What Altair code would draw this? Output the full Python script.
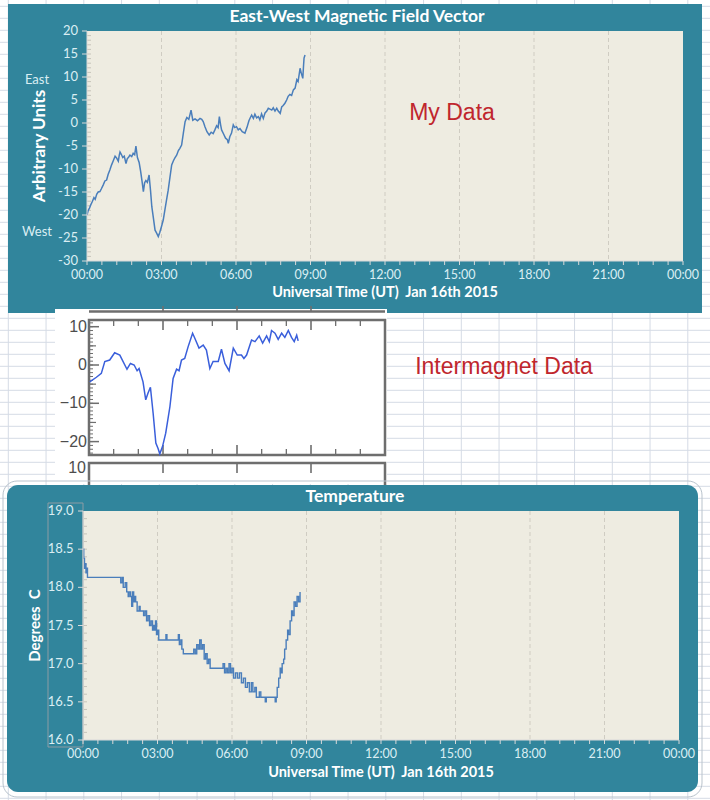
import altair as alt
import pandas as pd

# ------------------------------------------------------------------ data
# East-West magnetic field (my data): hours UT, arbitrary units
mag_hours = [0.00, 0.05, 0.10, 0.15, 0.22, 0.28, 0.33, 0.39, 0.45, 0.52, 0.58, 0.65, 0.72, 0.79,
             0.85, 0.92, 0.99, 1.05, 1.13, 1.19, 1.26, 1.30, 1.33, 1.38, 1.44, 1.50, 1.57, 1.62,
             1.68, 1.73, 1.80, 1.86, 1.92, 1.97, 2.03, 2.10, 2.16, 2.22, 2.27, 2.32, 2.37, 2.43,
             2.50, 2.56, 2.61, 2.67, 2.74, 2.80, 2.87, 2.93, 3.00, 3.07, 3.14, 3.20, 3.27, 3.34,
             3.41, 3.48, 3.54, 3.61, 3.68, 3.74, 3.81, 3.88, 3.95, 4.02, 4.10, 4.19, 4.26, 4.35,
             4.45, 4.55, 4.62, 4.68, 4.75, 4.83, 4.92, 5.00, 5.08, 5.15, 5.22, 5.28, 5.33, 5.38,
             5.42, 5.50, 5.58, 5.65, 5.69, 5.75, 5.82, 5.89, 5.95, 6.02, 6.09, 6.16, 6.25, 6.36,
             6.44, 6.52, 6.58, 6.63, 6.70, 6.76, 6.83, 6.90, 6.96, 7.03, 7.10, 7.17, 7.24, 7.30,
             7.37, 7.44, 7.50, 7.57, 7.64, 7.70, 7.78, 7.84, 7.90, 7.97, 8.04, 8.10, 8.17, 8.24,
             8.31, 8.38, 8.45, 8.50, 8.55, 8.58, 8.63, 8.69, 8.72, 8.74, 8.78]
mag_values = [-20.0, -19.0, -18.5, -17.8, -17.0, -16.2, -16.6, -15.5, -15.0, -14.9, -14.3, -13.5, -12.6, -12.4,
              -11.2, -10.2, -9.1, -8.3, -7.2, -7.6, -8.3, -7.0, -6.3, -6.8, -7.5, -7.2, -8.8, -7.8,
              -7.4, -7.0, -7.3, -6.6, -6.9, -5.0, -7.5, -8.6, -10.5, -12.8, -14.9, -13.0, -12.5, -12.9,
              -11.3, -14.8, -18.2, -20.5, -23.3, -23.9, -24.7, -23.8, -22.5, -21.1, -18.8, -16.8, -14.6, -11.8,
              -9.1, -8.2, -7.6, -7.0, -6.0, -5.5, -4.8, -2.2, 0.3, 1.2, 0.8, 2.8, 0.6, 0.9,
              0.5, 1.0, 0.8, 0.3, -0.8, -1.9, -2.6, -2.0, -2.3, -1.5, -0.6, -1.0, 1.4, -0.4,
              -1.5, -2.4, -3.3, -3.6, -4.4, -3.0, -2.2, -0.4, -1.0, -0.8, -1.5, -1.2, -1.9, -2.2,
              -1.0, 0.5, 1.2, 1.7, 1.0, 1.9, 1.1, 1.4, 0.7, 2.0, 1.0, 2.2, 2.6, 3.2,
              3.0, 2.8, 3.3, 2.6, 3.2, 2.6, 2.1, 3.5, 3.8, 4.3, 5.0, 5.8, 6.2, 6.0,
              7.2, 7.6, 9.4, 9.0, 10.8, 11.9, 10.8, 9.7, 12.5, 14.1, 14.8]

# Intermagnet data (inset)
im_hours = [0.03, 0.30, 0.50, 0.64, 0.84, 1.04, 1.25, 1.54, 1.68, 1.83, 1.95, 2.03, 2.19, 2.30,
            2.39, 2.49, 2.60, 2.71, 2.80, 2.87, 2.98, 3.11, 3.28, 3.41, 3.55, 3.65, 3.75, 3.88,
            4.02, 4.20, 4.29, 4.46, 4.63, 4.76, 4.90, 5.03, 5.24, 5.37, 5.51, 5.68, 5.85, 6.01,
            6.18, 6.28, 6.39, 6.59, 6.73, 6.90, 7.04, 7.20, 7.31, 7.40, 7.54, 7.67, 7.81, 7.94,
            8.08, 8.21, 8.32, 8.42, 8.48]
im_values = [-4.4, -3.2, -2.2, 0.9, 1.3, 3.2, 2.6, -1.1, 0.4, 0.0, -1.5, -0.9, -4.4, -9.1,
             -7.4, -5.8, -12.6, -20.4, -21.8, -23.2, -21.3, -17.8, -10.9, -3.5, -1.1, -1.5, 1.3, 1.7,
             4.8, 8.3, 7.0, 4.4, 5.2, 3.9, -0.9, 0.9, 0.9, 4.1, 0.4, -1.5, 4.4, 2.6,
             2.6, 1.7, 2.6, 6.5, 6.1, 7.6, 5.7, 7.6, 6.1, 9.0, 8.3, 6.7, 8.3, 7.2,
             9.0, 7.2, 6.1, 7.8, 6.3]

# Temperature (degrees C)
temp_hours = [0.00, 0.03, 0.06, 0.09, 0.12, 0.15, 0.18, 1.50, 1.52, 1.58, 1.62, 1.70, 1.76, 1.82,
              1.86, 1.92, 1.96, 2.00, 2.04, 2.08, 2.12, 2.18, 2.26, 2.30, 2.40, 2.44, 2.50, 2.56,
              2.62, 2.68, 2.74, 2.80, 2.84, 2.88, 2.92, 2.96, 3.00, 3.05, 3.30, 3.34, 3.38, 3.80,
              3.84, 3.88, 3.94, 3.98, 4.04, 4.40, 4.46, 4.52, 4.58, 4.64, 4.70, 4.76, 4.82, 4.88,
              4.94, 5.00, 5.06, 5.12, 5.60, 5.64, 5.70, 5.76, 5.82, 5.88, 5.94, 6.00, 6.06, 6.14,
              6.22, 6.30, 6.38, 6.46, 6.54, 6.62, 6.70, 6.78, 6.84, 6.92, 6.98, 7.10, 7.16, 7.30,
              7.34, 7.38, 7.70, 7.74, 7.78, 7.82, 7.88, 7.94, 7.98, 8.02, 8.08, 8.12, 8.18, 8.24,
              8.28, 8.34, 8.40, 8.44, 8.50, 8.56, 8.62, 8.68, 8.74]
temp_values = [18.50, 18.38, 18.25, 18.31, 18.19, 18.25, 18.13, 18.13, 18.06, 18.13, 18.00, 18.06, 17.94, 17.88,
               17.94, 17.88, 17.75, 17.94, 17.81, 17.88, 17.81, 17.69, 17.75, 17.69, 17.69, 17.63, 17.69, 17.56,
               17.63, 17.50, 17.56, 17.44, 17.50, 17.44, 17.56, 17.38, 17.44, 17.31, 17.31, 17.38, 17.31, 17.31,
               17.38, 17.25, 17.31, 17.19, 17.13, 17.13, 17.19, 17.13, 17.25, 17.19, 17.31, 17.19, 17.25, 17.06,
               17.13, 17.00, 17.06, 16.94, 16.94, 17.00, 16.88, 16.94, 16.88, 17.00, 16.88, 16.94, 16.81, 16.88,
               16.81, 16.88, 16.75, 16.81, 16.69, 16.75, 16.63, 16.75, 16.63, 16.69, 16.56, 16.63, 16.56, 16.56,
               16.50, 16.56, 16.56, 16.50, 16.56, 16.69, 16.81, 16.94, 16.88, 17.00, 17.06, 17.19, 17.31, 17.44,
               17.38, 17.56, 17.69, 17.63, 17.81, 17.75, 17.88, 17.81, 17.94]

# axis ticks / labels
hour_grid = [3, 6, 9, 12, 15, 18, 21]
hour_label_pos = [0, 3, 6, 9, 12, 15, 18, 21, 24]
hour_label_text = ["00:00", "03:00", "06:00", "09:00", "12:00", "15:00", "18:00", "21:00", "00:00"]
time_ticks = [round(k * 0.6, 1) for k in range(41)]
mag_labels = [-30, -25, -20, -15, -10, -5, 0, 5, 10, 15, 20]
mag_label_text = ["-30", "-25", "-20", "-15", "-10", "-5", "0", "5", "10", "15", "20"]
mag_minor = list(range(-29, 20))
temp_labels = [16.0, 16.5, 17.0, 17.5, 18.0, 18.5, 19.0]
temp_label_text = ["16.0", "16.5", "17.0", "17.5", "18.0", "18.5", "19.0"]
temp_minor = [round(16 + 0.1 * k, 1) for k in range(1, 30)]
im_labels = [-20, -10, 0, 10]
im_label_text = ["\u221220", "\u221210", "0", "10"]
im_minor = list(range(-23, 12))
im_mid = [-15, -5, 5]
im_hour_minor = [1, 2, 4, 5, 7, 8, 10, 11]
im_hour_major = [3, 6, 9]
sheet_cols = list(range(19))
sheet_rows = list(range(67))

# ------------------------------------------------------------------ style
W, H = 710, 800
TEAL = "#31859C"
PLOT_BG = "#EEECE1"
LABEL = "#DAEEF3"
AXIS_LINE = "#D9D9D9"
GRID = "#CFCCC2"
LINE = "#4A7EBB"
RED = "#C0262D"
FONT = "Lato"
SHEET = "#D5DBE5"
FRAME = "#6E6E6E"

one = pd.DataFrame({"k": [0]})


def box(x, x2, y, y2, **kw):
    return alt.Chart(one).mark_rect(**kw).encode(
        x=alt.value(x), x2=alt.value(x2), y=alt.value(y), y2=alt.value(y2))


def text(t, x, y, **kw):
    return alt.Chart(one).mark_text(text=t, **kw).encode(x=alt.value(x), y=alt.value(y))


def hrule(x, x2, y, **kw):
    return alt.Chart(one).mark_rule(**kw).encode(x=alt.value(x), x2=alt.value(x2), y=alt.value(y))


def vrule(x, y, y2, **kw):
    return alt.Chart(one).mark_rule(**kw).encode(x=alt.value(x), y=alt.value(y), y2=alt.value(y2))


def panel(xs, ys, x0, x1, y0, y1, series, ylab_vals, ylab_text, yminor, line_kw, xtitle_y, ytitle,
          ytitle_x, ytitle_size, label_right, tick_len=5):
    """Excel-style panel: grid, minor ticks, axes built from marks, the data line."""
    grid = alt.Chart(pd.DataFrame({"g": hour_grid})).mark_rule(
        color=GRID, strokeDash=[4, 3], strokeWidth=1).encode(
        x=alt.X("g:Q", scale=xs, axis=None), y=alt.value(y0), y2=alt.value(y1))
    minor = alt.Chart(pd.DataFrame({"t": yminor})).mark_rule(color="#C6C4BA", strokeWidth=1).encode(
        y=alt.Y("t:Q", scale=ys, axis=None), x=alt.value(x0), x2=alt.value(x0 + 4))
    yticks = alt.Chart(pd.DataFrame({"t": ylab_vals})).mark_rule(color=AXIS_LINE, strokeWidth=1).encode(
        y=alt.Y("t:Q", scale=ys, axis=None), x=alt.value(x0 - tick_len), x2=alt.value(x0))
    ylabels = alt.Chart(pd.DataFrame({"t": ylab_vals, "s": ylab_text})).mark_text(
        font=FONT, fontSize=13, color=LABEL, align="right", baseline="middle").encode(
        y=alt.Y("t:Q", scale=ys, axis=None), x=alt.value(label_right), text="s:N")
    xticks = alt.Chart(pd.DataFrame({"t": time_ticks})).mark_rule(color=AXIS_LINE, strokeWidth=1).encode(
        x=alt.X("t:Q", scale=xs, axis=None), y=alt.value(y1), y2=alt.value(y1 + 4))
    xlabels = alt.Chart(pd.DataFrame({"t": hour_label_pos, "s": hour_label_text})).mark_text(
        font=FONT, fontSize=12.5, color=LABEL, align="center", baseline="middle").encode(
        x=alt.X("t:Q", scale=xs, axis=None), y=alt.value(y1 + 14), text="s:N")
    line = alt.Chart(pd.DataFrame({"h": series[0], "v": series[1]})).mark_line(**line_kw).encode(
        x=alt.X("h:Q", scale=xs, axis=None), y=alt.Y("v:Q", scale=ys, axis=None))
    x_axis_line = hrule(x0, x1, y1, color=AXIS_LINE, strokeWidth=1)
    y_axis_line = vrule(x0, y0, y1, color=AXIS_LINE, strokeWidth=1)
    xtitle = text("Universal Time (UT)\u00a0 Jan 16th 2015", (x0 + x1) / 2, xtitle_y, font=FONT,
                  fontSize=14.5, fontWeight="bold", color="white", align="center", baseline="middle")
    ytitle_m = text(ytitle, ytitle_x, (y0 + y1) / 2, font=FONT, fontSize=ytitle_size,
                    fontWeight="bold", color="white", align="center", baseline="middle", angle=270)
    return alt.layer(grid, minor, line, x_axis_line, y_axis_line, yticks, ylabels, xticks, xlabels,
                     xtitle, ytitle_m)


# ------------------------------------------------------------------ spreadsheet background
cols = alt.Chart(pd.DataFrame({"c": sheet_cols})).mark_rule(color=SHEET, strokeWidth=1).encode(
    x=alt.X("c:Q", scale=alt.Scale(domain=[0, 18], range=[8.3, 8.3 + 18 * 37.75]), axis=None),
    y=alt.value(0), y2=alt.value(H))
rows = alt.Chart(pd.DataFrame({"r": sheet_rows})).mark_rule(color=SHEET, strokeWidth=1).encode(
    y=alt.Y("r:Q", scale=alt.Scale(domain=[0, 66], range=[6.3, 6.3 + 66 * 12]), axis=None),
    x=alt.value(0), x2=alt.value(W))

# ------------------------------------------------------------------ top chart (magnetic field)
TX0, TX1, TY0, TY1 = 87, 683, 31, 261
top_x = alt.Scale(domain=[0, 24], range=[TX0, TX1], nice=False, zero=False)
top_y = alt.Scale(domain=[-30, 20], range=[TY1, TY0], nice=False, zero=False)
top_panel = panel(top_x, top_y, TX0, TX1, TY0, TY1, (mag_hours, mag_values), mag_labels,
                  mag_label_text, mag_minor, dict(color=LINE, strokeWidth=1.5), 293,
                  "Arbitrary Units", 40, 17, 78)

top_box = box(8, 702, 4, 313, color=TEAL)
top_bg = box(TX0, TX1, TY0, TY1, color=PLOT_BG)
top_title = text("East-West Magnetic Field Vector", 357, 17, font=FONT, fontSize=17.5,
                 fontWeight="bold", color="white", align="center", baseline="middle")
east = text("East", 37, 80, font=FONT, fontSize=13, color=LABEL, align="center", baseline="middle")
west = text("West", 37, 232, font=FONT, fontSize=13, color=LABEL, align="center", baseline="middle")
my_data = text("My Data", 452, 113, font="Liberation Sans", fontSize=23, color=RED,
               align="center", baseline="middle")

# ------------------------------------------------------------------ middle inset (Intermagnet)
IX0, IX1, IY0, IY1 = 89, 385, 320, 455
im_x = alt.Scale(domain=[0, 12], range=[IX0, IX1], nice=False, zero=False)
im_y = alt.Scale(domain=[-23.5, 11.75], range=[IY1, IY0], nice=False, zero=False)

im_white = box(55, 387, 309, 484, color="white")
im_prev = hrule(IX0, IX1, 311.5, color=FRAME, strokeWidth=2.5)
im_next = box(IX0, IX1, 463, 495, fillOpacity=0, stroke=FRAME, strokeWidth=2.5)
im_next_lbl = text("10", 86, 468, font="Liberation Sans", fontSize=16, color="#4D4D4D",
                   align="right", baseline="middle")
im_frame = box(IX0, IX1, IY0, IY1, fillOpacity=0, stroke=FRAME, strokeWidth=2.5)

im_ticks_left = alt.Chart(pd.DataFrame({"t": im_minor})).mark_rule(color=FRAME, strokeWidth=1).encode(
    y=alt.Y("t:Q", scale=im_y, axis=None), x=alt.value(IX0), x2=alt.value(IX0 + 4))
im_ticks_mid = alt.Chart(pd.DataFrame({"t": im_mid})).mark_rule(color=FRAME, strokeWidth=1.2).encode(
    y=alt.Y("t:Q", scale=im_y, axis=None), x=alt.value(IX0), x2=alt.value(IX0 + 7))
im_ticks_major = alt.Chart(pd.DataFrame({"t": im_labels})).mark_rule(color=FRAME, strokeWidth=1.5).encode(
    y=alt.Y("t:Q", scale=im_y, axis=None), x=alt.value(IX0), x2=alt.value(IX0 + 10))
im_ylabels = alt.Chart(pd.DataFrame({"t": im_labels, "s": im_label_text})).mark_text(
    font="Liberation Sans", fontSize=16, color="#4D4D4D", align="right", baseline="middle").encode(
    y=alt.Y("t:Q", scale=im_y, axis=None), x=alt.value(IX0 - 2), text="s:N")
im_ticks_top = alt.Chart(pd.DataFrame({"t": im_hour_minor})).mark_rule(color=FRAME, strokeWidth=1.3).encode(
    x=alt.X("t:Q", scale=im_x, axis=None), y=alt.value(IY0), y2=alt.value(IY0 + 6))
im_ticks_top_major = alt.Chart(pd.DataFrame({"t": im_hour_major})).mark_rule(color=FRAME, strokeWidth=1.6).encode(
    x=alt.X("t:Q", scale=im_x, axis=None), y=alt.value(IY0), y2=alt.value(IY0 + 10))
im_ticks_bot = alt.Chart(pd.DataFrame({"t": im_hour_minor})).mark_rule(color=FRAME, strokeWidth=1.3).encode(
    x=alt.X("t:Q", scale=im_x, axis=None), y=alt.value(IY1 - 6), y2=alt.value(IY1))
im_ticks_bot_major = alt.Chart(pd.DataFrame({"t": im_hour_major})).mark_rule(color=FRAME, strokeWidth=1.6).encode(
    x=alt.X("t:Q", scale=im_x, axis=None), y=alt.value(IY1 - 10), y2=alt.value(IY1))
im_ticks_prev = alt.Chart(pd.DataFrame({"t": im_hour_major})).mark_rule(color=FRAME, strokeWidth=1.6).encode(
    x=alt.X("t:Q", scale=im_x, axis=None), y=alt.value(306), y2=alt.value(311.5))
im_ticks_next = alt.Chart(pd.DataFrame({"t": im_hour_major})).mark_rule(color=FRAME, strokeWidth=1.6).encode(
    x=alt.X("t:Q", scale=im_x, axis=None), y=alt.value(463), y2=alt.value(473))
im_line = alt.Chart(pd.DataFrame({"h": im_hours, "v": im_values})).mark_line(
    color="#3A5FDB", strokeWidth=1.5).encode(
    x=alt.X("h:Q", scale=im_x, axis=None),
    y=alt.Y("v:Q", scale=im_y, axis=None))
im_panel = alt.layer(im_ticks_left, im_ticks_mid, im_ticks_major, im_ylabels, im_ticks_top,
                     im_ticks_top_major, im_ticks_bot, im_ticks_bot_major, im_ticks_prev,
                     im_ticks_next, im_line)
im_text = text("Intermagnet Data", 504, 367, font="Liberation Sans", fontSize=23, color=RED,
               align="center", baseline="middle")

# ------------------------------------------------------------------ bottom chart (temperature)
BX0, BX1, BY0, BY1 = 83, 679, 511, 740
bot_x = alt.Scale(domain=[0, 24], range=[BX0, BX1], nice=False, zero=False)
bot_y = alt.Scale(domain=[16, 19], range=[BY1, BY0], nice=False, zero=False)

bot_sel = box(3, 702, 481, 797, fillOpacity=0, stroke="#B9C3CC", strokeWidth=1, cornerRadius=14)
bot_box = box(7, 698, 485, 792, color=TEAL, cornerRadius=11)
bot_bg = box(BX0, BX1, BY0, BY1, color=PLOT_BG)
bot_axis_sel = box(48, BX0, 503, 747, fillOpacity=0, stroke="#8D9CA4", strokeWidth=1)
bot_panel = panel(bot_x, bot_y, BX0, BX1, BY0, BY1, (temp_hours, temp_values), temp_labels,
                  temp_label_text, temp_minor,
                  dict(color=LINE, strokeWidth=1.4, interpolate="step-after"), 773,
                  "Degrees\u00a0 C", 35, 15, 73.5)
bot_title = text("Temperature", 355, 497, font=FONT, fontSize=17.5, fontWeight="bold",
                 color="white", align="center", baseline="middle")

# ------------------------------------------------------------------ assemble
chart = alt.layer(
    cols, rows,
    top_box, top_bg, top_panel, top_title, east, west, my_data,
    im_white, im_prev, im_next, im_next_lbl, im_frame, im_panel, im_text,
    bot_sel, bot_box, bot_bg, bot_axis_sel, bot_panel, bot_title,
).resolve_scale(x="independent", y="independent").properties(
    width=W, height=H, padding=0, autosize=alt.AutoSizeParams(type="none"),
    background="white",
).configure_view(strokeWidth=0)

chart.save("out.html", embed_options={"renderer": "svg", "actions": False})
